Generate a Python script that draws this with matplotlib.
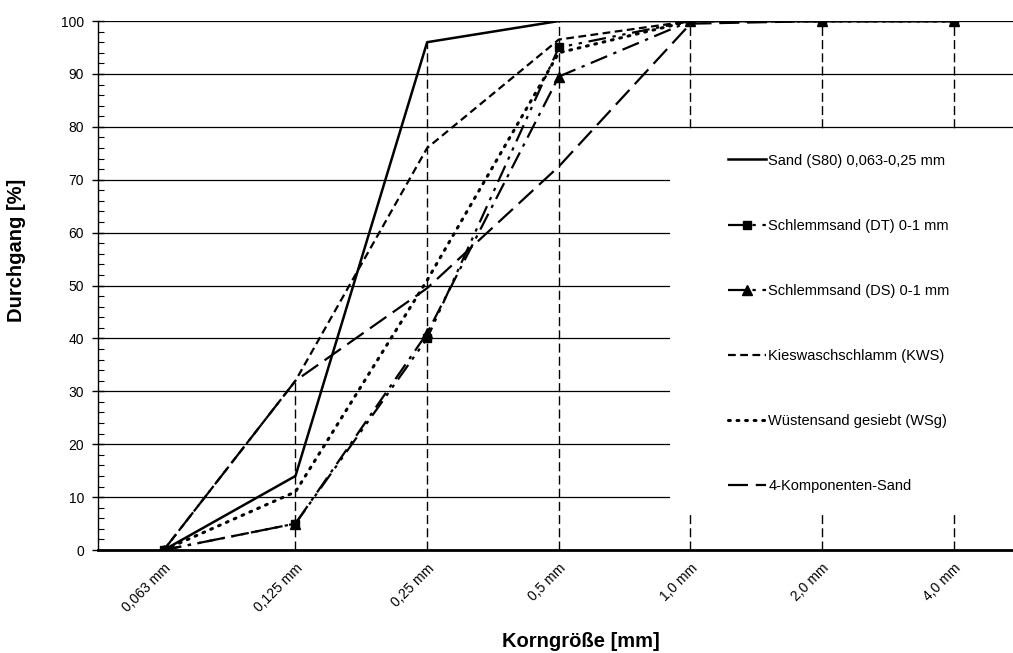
import numpy as np
import matplotlib.pyplot as plt
import matplotlib.transforms as mtransforms
from matplotlib.patches import Rectangle

plt.rcParams['font.family'] = ['Liberation Sans', 'DejaVu Sans']

# Siebdurchgang je Korngröße
korn = ["0,063 mm", "0,125 mm", "0,25 mm", "0,5 mm", "1,0 mm", "2,0 mm", "4,0 mm"]

sand_s80 = [0, 14, 96, 100, 100, 100, 100]
schlemm_dt = [0, 5, 40, 95, 100, 100, 100]
schlemm_ds = [0, 5, 41, 89.5, 100, 100, 100]
kws = [0, 32, 76, 96.5, 100, 100, 100]
wsg = [0, 11, 51, 94, 100, 100, 100]
vier_k = [0, 32, 49.5, 72.5, 99.5, 100, 100]

labels = ["Sand (S80) 0,063-0,25 mm", "Schlemmsand (DT) 0-1 mm", "Schlemmsand (DS) 0-1 mm",
          "Kieswaschschlamm (KWS)", "Wüstensand gesiebt (WSg)", "4-Komponenten-Sand"]

x = np.arange(len(korn))

fig = plt.figure(figsize=(10.13, 6.53), dpi=100)
ax = fig.add_axes([0.0967, 0.1577, 0.9099, 0.8101])

# Lotlinien vom Maximum bis zur Achse
alle = np.array([sand_s80, schlemm_dt, schlemm_ds, kws, wsg, vier_k])
ax.vlines(x, 0, alle.max(axis=0), colors="black", linestyles=(0, (6.5, 3)), lw=1.0, zorder=1)

ax.plot(x, sand_s80, color="black", lw=1.8, label=labels[0], zorder=3)
ax.plot(x, schlemm_dt, color="black", lw=1.6, dashes=(8, 3, 1.5, 3, 1.5, 3),
        marker="s", ms=6, label=labels[1], zorder=3)
ax.plot(x, schlemm_ds, color="black", lw=1.6, dashes=(8, 3, 1.5, 3),
        marker="^", ms=7, label=labels[2], zorder=3)
ax.plot(x, kws, color="black", lw=1.6, dashes=(3.5, 2), label=labels[3], zorder=3)
ax.plot(x, wsg, color="black", lw=2.2, dashes=(0.6, 2.2), dash_capstyle="round",
        label=labels[4], zorder=3)
ax.plot(x, vier_k, color="black", lw=1.6, dashes=(9, 3.5), label=labels[5], zorder=3)

ax.set_xlim(-0.5, 6.5)
ax.set_ylim(0, 100)
ax.set_yticks(np.arange(0, 101, 10))
ax.set_yticks(np.arange(0, 101, 2), minor=True)
ax.yaxis.grid(True, color="black", lw=0.9)
ax.set_axisbelow(True)

# weißer Hintergrund der Legende
ax.add_patch(Rectangle((0.6206, 0.066), 0.5, 0.729, transform=ax.transAxes,
                       facecolor="white", edgecolor="none", zorder=1.5))

ax.set_xticks(x)
ax.set_xticklabels(korn, rotation=45, ha="right", rotation_mode="anchor", fontsize=10)
verschiebung = mtransforms.ScaledTranslation(6 / 72, 0, fig.dpi_scale_trans)
for t in ax.get_xticklabels():
    t.set_transform(t.get_transform() + verschiebung)
ax.tick_params(axis="x", length=0, pad=8)
ax.tick_params(axis="y", which="major", direction="inout", length=8, width=1, labelsize=10, pad=6)
ax.tick_params(axis="y", which="minor", direction="in", length=4, width=0.8)

for s in ["top", "right"]:
    ax.spines[s].set_visible(False)
ax.spines["left"].set_linewidth(1.0)
ax.spines["bottom"].set_linewidth(2.0)
ax.spines["bottom"].set_zorder(4)

fig.text(17 / 1013, 1 - 250 / 653, "Durchgang [%]", rotation=90, fontsize=14.5,
         fontweight="bold", ha="center", va="center")
fig.text(581 / 1013, 1 - 647 / 653, "Korngröße [mm]", fontsize=14.5, fontweight="bold",
         ha="center", va="baseline")

ax.legend(loc="upper left", bbox_to_anchor=(0.7118, 0.776), bbox_transform=fig.transFigure,
          frameon=False, fontsize=10.5, handlelength=2.6, handletextpad=0.15,
          labelspacing=3.5, borderpad=0)

fig.savefig("out.png", dpi=100)
